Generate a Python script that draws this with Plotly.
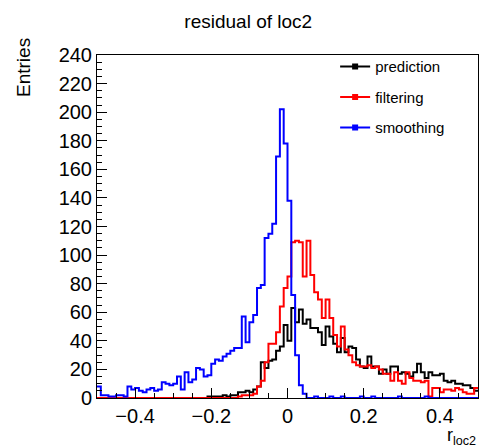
import numpy as np
import plotly.graph_objects as go

# ---- data -----------------------------------------------------------------
N_BINS = 100
X_LO, X_HI = -0.5, 0.5

prediction = [0]*29 + [
    1, 1, 1, 1, 2, 1, 2, 2, 4, 4, 5, 4, 6, 8, 25, 21, 26, 27, 33, 36,
    51, 40, 63, 53, 62, 52, 55, 49, 49, 46, 37, 50, 43, 38, 32, 42, 32, 36, 35, 27,
    22, 21, 29, 22, 22, 17, 20, 17, 22, 22, 17, 18, 17, 15, 18, 24, 18, 14, 18, 16,
    16, 17, 12, 11, 12, 10, 10, 9, 9, 7, 5]

filtering = [0]*37 + [
    1, 2, 2, 2, 3, 8, 12, 25, 38, 38, 46, 64, 77, 85, 109, 110, 109, 85, 110, 86,
    74, 69, 56, 69, 56, 44, 36, 50, 34, 30, 25, 23, 22, 22, 23, 21, 22, 20, 17, 17,
    12, 18, 12, 10, 18, 14, 12, 12, 11, 12, 1, 7, 7, 4, 6, 6, 5, 7, 6, 4,
    3, 3, 7]

smoothing = [
    8, 2, 2, 1, 1, 2, 2, 1, 8, 6, 7, 5, 4, 6, 7, 5, 6, 11, 10, 9,
    10, 15, 6, 18, 11, 13, 21, 20, 15, 16, 24, 27, 26, 29, 31, 33, 35, 35, 57, 39,
    53, 58, 77, 79, 112, 115, 122, 169, 202, 178, 138, 72, 30, 9, 3, 0, 0, 1, 0, 0,
    0, 1, 0, 0, 1, 0, 0, 0, 0, 1, 0, 0, 1, 0, 0, 0, 0, 0, 0, 1,
    0, 0, 0, 0, 0, 0, 1, 0, 0, 0, 0, 0, 0, 0, 0, 0, 0, 0, 0, 0]

series_names = ["prediction", "filtering", "smoothing"]
series_values = [prediction, filtering, smoothing]
series_colors = ["#000000", "#ff0000", "#0000ff"]

x_tick_vals = [-0.4, -0.2, 0, 0.2, 0.4]

# ---- figure ---------------------------------------------------------------
edges = np.linspace(X_LO, X_HI, N_BINS + 1)
FONT = "Liberation Sans, Arial, Helvetica, sans-serif"

fig = go.Figure()
for name, vals, col in zip(series_names, series_values, series_colors):
    y = list(vals) + [vals[-1]]
    fig.add_trace(go.Scatter(
        x=edges, y=y, mode="lines",
        line=dict(color=col, width=2, shape="hv"),
        showlegend=False, hoverinfo="skip"))

for name, col in zip(series_names, series_colors):
    fig.add_trace(go.Scatter(
        x=[None], y=[None], mode="lines+markers", name=name,
        legendgroup=name,
        line=dict(color=col, width=2),
        marker=dict(symbol="square", size=6, color=col)))

fig.update_layout(
    width=482, height=448,
    margin=dict(l=97, r=4, t=55, b=50),
    paper_bgcolor="white", plot_bgcolor="white",
    font=dict(family=FONT, color="black"),
    title=dict(text="residual of loc2", x=0.515, xanchor="center",
               y=1 - 21/448, yref="container", yanchor="middle",
               font=dict(size=19, family=FONT, color="black")),
    legend=dict(x=0.625, y=1.014, xanchor="left", yanchor="top",
                bgcolor="rgba(0,0,0,0)", font=dict(size=15, family=FONT),
                tracegroupgap=8, itemwidth=30),
    showlegend=True,
)

fig.update_xaxes(
    range=[X_LO, X_HI], tickvals=x_tick_vals,
    ticks="inside", ticklen=10, tickcolor="black", tickwidth=1,
    minor=dict(dtick=0.05, tick0=0, ticks="inside", ticklen=5, tickcolor="black"),
    showline=True, mirror=True, linecolor="black", linewidth=1,
    showgrid=False, zeroline=False,
    tickfont=dict(size=20, family=FONT, color="black"))

fig.update_yaxes(
    range=[0, 240], dtick=20, tick0=0,
    ticks="inside", ticklen=10, tickcolor="black", tickwidth=1,
    minor=dict(dtick=5, tick0=0, ticks="inside", ticklen=5, tickcolor="black"),
    showline=True, mirror=True, linecolor="black", linewidth=1,
    showgrid=False, zeroline=False,
    tickfont=dict(size=20, family=FONT, color="black"))

fig.add_annotation(text="Entries", textangle=-90, xref="paper", yref="paper",
                   x=(24 - 97) / 381, y=(398 - 68) / 343,
                   xanchor="center", yanchor="middle", showarrow=False,
                   font=dict(size=19, family=FONT, color="black"))
fig.add_annotation(text="r<sub>loc2</sub>", xref="paper", yref="paper",
                   x=1.0, y=(398 - 423) / 343, xanchor="right", yanchor="top",
                   showarrow=False, font=dict(size=18, family=FONT, color="black"))

fig.write_html("out.html")
